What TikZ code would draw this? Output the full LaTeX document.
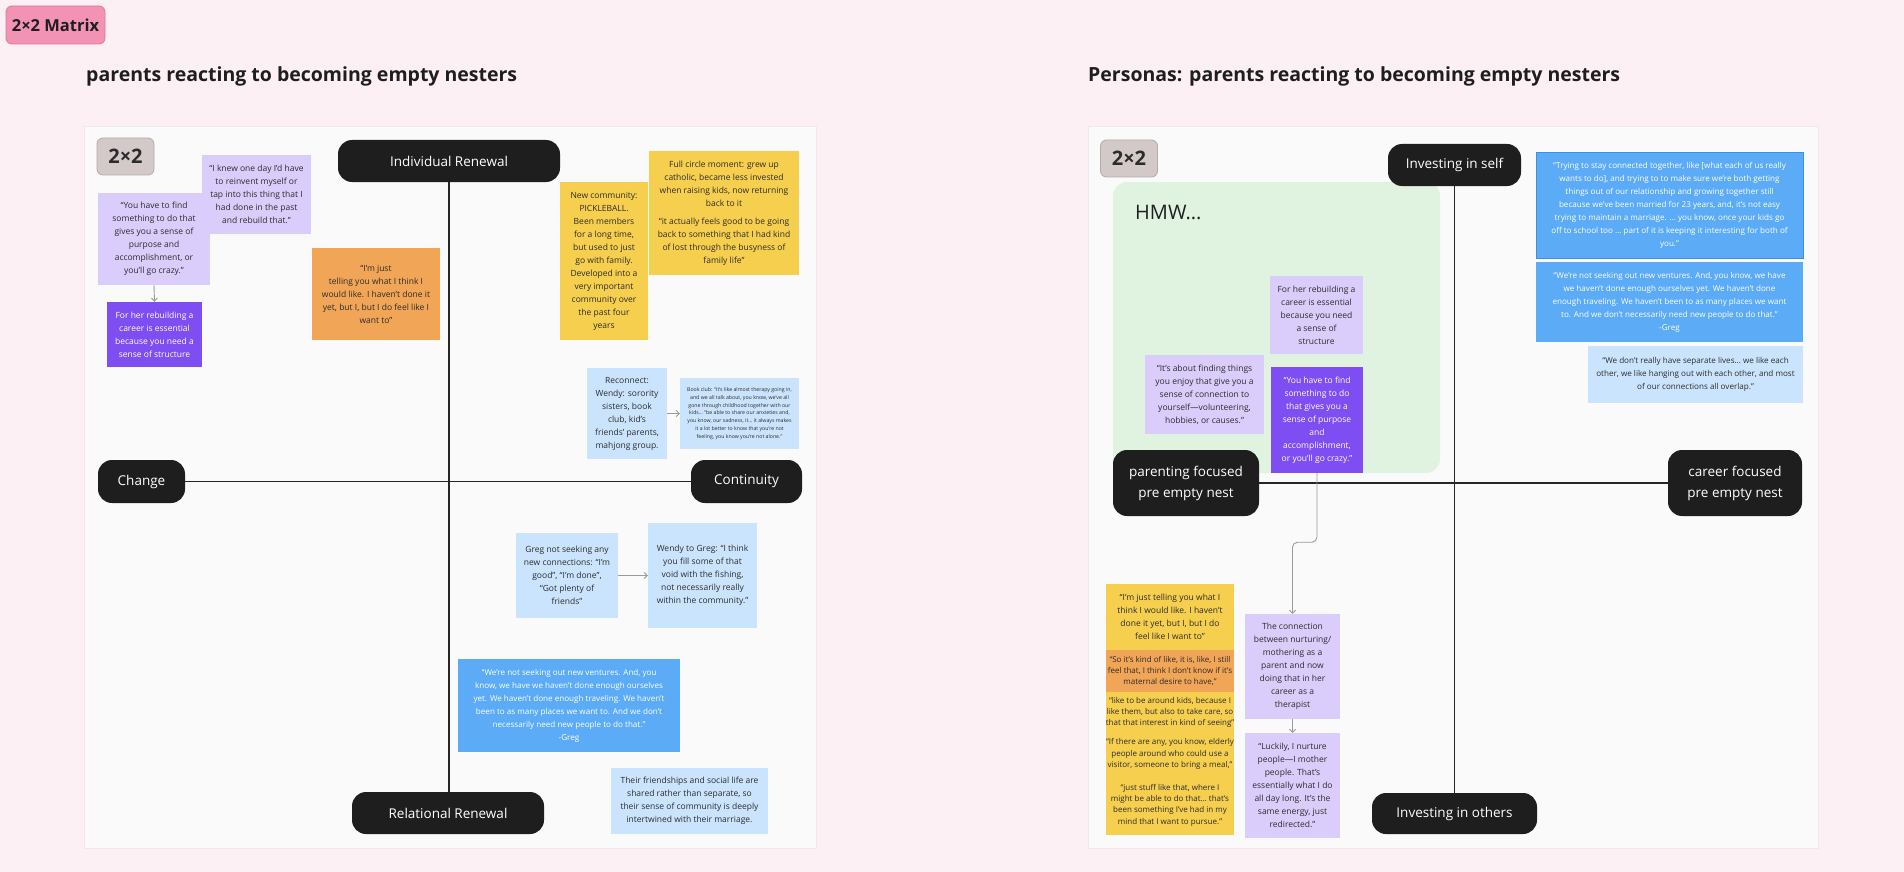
\documentclass[tikz,border=0pt]{standalone}
\usepackage{fontspec}
\setmainfont{Open Sans}
\usetikzlibrary{arrows.meta,positioning,backgrounds}
\definecolor{pagebg}{HTML}{FDF0F4}
\definecolor{panelbg}{HTML}{FAFAFA}
\definecolor{panelline}{HTML}{EEEAEC}
\definecolor{pillblack}{HTML}{1E1E1E}
\definecolor{axisblack}{HTML}{262626}
\definecolor{notetext}{HTML}{2C2C2C}
\definecolor{headtext}{HTML}{1E1E1E}
\definecolor{lilac}{HTML}{DACDFB}
\definecolor{violet}{HTML}{7E4EF2}
\definecolor{peach}{HTML}{F1A556}
\definecolor{sun}{HTML}{F6CF4F}
\definecolor{skylight}{HTML}{CBE4FD}
\definecolor{sky}{HTML}{5CABF6}
\definecolor{skyedge}{HTML}{3C8FE3}
\definecolor{hmwfill}{HTML}{DFF3E0}
\definecolor{tagfill}{HTML}{D3C9C9}
\definecolor{tagline}{HTML}{B5AAAA}
\definecolor{pinktag}{HTML}{F292B4}
\definecolor{pinkline}{HTML}{DC789D}
\definecolor{linkgrey}{HTML}{9A9A9A}
\newcommand\notefont{\fontsize{8.5}{13}\selectfont}
\newcommand\smallnote{\fontsize{8}{11.3}\selectfont}
\newcommand\densenote{\fontsize{8.1}{13}\selectfont}
\newcommand\tinynote{\fontsize{5.2}{7.8}\selectfont}
\newcommand\pillfont{\fontsize{13.5}{21}\selectfont}
\newcommand\headfont{\fontsize{19.5}{24}\selectfont\bfseries}
\newcommand\tagfont{\fontsize{20}{24}\selectfont\bfseries}

\begin{document}
\begin{tikzpicture}[x=1pt, y=-1pt,
  note/.style={inner sep=0pt, align=center, font=\notefont, text=notetext},
  sz/.style 2 args={minimum width=#1pt, minimum height=#2pt},
  pill/.style={fill=pillblack, text=white, rounded corners=14pt, inner sep=0pt, align=center, font=\pillfont},
  boxtag/.style={fill=tagfill, draw=tagline, line width=0.8pt, rounded corners=6pt, inner sep=0pt, font=\tagfont, text=notetext, minimum width=57pt, minimum height=37pt},
  panel/.style={fill=panelbg, draw=panelline, line width=0.8pt},
  axisline/.style={draw=axisblack, line width=1.5pt},
  link/.style={draw=linkgrey, line width=0.9pt, -{Straight Barb[length=3pt,width=6pt]}},
  heading/.style={anchor=west, font=\headfont, text=headtext, inner sep=0pt}]
  \useasboundingbox (0,0) rectangle (1904,872);

  \begin{scope}[on background layer]
    \fill[pagebg] (0,0) rectangle (1904,872);
    \filldraw[panel] (84,126) rectangle (816,848);
    \filldraw[panel] (1088,126) rectangle (1818,848);
    \fill[hmwfill, rounded corners=14pt] (1113,182) rectangle (1440,473);
  \end{scope}

  \node[fill=pinktag, draw=pinkline, line width=0.8pt, rounded corners=6pt, inner sep=0pt,
    sz={99}{38}, font=\fontsize{16.5}{20}\selectfont\bfseries, text=headtext] (matrixtag) at (55.5,25) {2×2 Matrix};
  \node[heading] (titleleft) at (86,76) {parents reacting to becoming empty nesters};
  \node[heading] (titleright) at (1088,76) {Personas: parents reacting to becoming empty nesters};

  % left 2x2
  \node[boxtag] (tagleft) at (125.5,156.5) {2×2};
  \node[pill, sz={222}{42}] (indiv) at (449,161) {Individual Renewal};
  \node[pill, sz={192}{42}] (relat) at (448,813) {Relational Renewal};
  \node[pill, sz={87}{43}] (change) at (141.5,481.5) {Change};
  \node[pill, sz={111}{43}] (contin) at (746.5,481.5) {Continuity};

  \node[note, fill=lilac, sz={109}{79}] (knew) at (256.5,194.5)
    {“I knew one day I’d have\\to reinvent myself or\\tap into this thing that I\\had done in the past\\and rebuild that.”};
  \node[note, fill=lilac, sz={112}{92}] (findleft) at (154,239)
    {“You have to find\\something to do that\\gives you a sense of\\purpose and\\accomplishment, or\\you’ll go crazy.”};
  \node[note, fill=violet, text=white, sz={95}{65}] (careerleft) at (154.5,334.5)
    {For her rebuilding a\\career is essential\\because you need a\\sense of structure};
  \node[note, fill=peach, sz={128}{92}] (justleft) at (376,294)
    {“I’m just\\telling you what I think I\\would like. I haven’t done it\\yet, but I, but I do feel like I\\want to”};
  \node[note, fill=sun, sz={88}{158}] (pickle) at (604,261)
    {New community:\\PICKLEBALL.\\Been members\\for a long time,\\but used to just\\go with family.\\Developed into a\\very important\\community over\\the past four\\years};
  \node[note, fill=sun, sz={150}{124}] (circle) at (724,213)
    {Full circle moment: grew up\\catholic, became less invested\\when raising kids, now returning\\back to it\\[5pt]“it actually feels good to be going\\back to something that I had kind\\of lost through the busyness of\\family life”};
  \node[note, fill=skylight, sz={80}{91}] (reconnect) at (627,413.5)
    {Reconnect:\\Wendy: sorority\\sisters, book\\club, kid’s\\friends’ parents,\\mahjong group.};
  \node[note, fill=skylight, sz={119}{71}, font=\tinynote] (bookclub) at (739.5,413.5)
    {Book club: “It’s like almost therapy going in,\\and we all talk about, you know, we’ve all\\gone through childhood together with our\\kids… “be able to share our anxieties and,\\you know, our sadness, it… it always makes\\it a lot better to know that you’re not\\feeling, you know you’re not alone.”};
  \node[note, fill=skylight, sz={102}{85}] (gregno) at (567,575.5)
    {Greg not seeking any\\new connections: “I’m\\good”, “I’m done”,\\“Got plenty of\\friends”};
  \node[note, fill=skylight, sz={109}{105}] (wendy) at (702.5,575.5)
    {Wendy to Greg: “I think\\you fill some of that\\void with the fishing,\\not necessarily really\\within the community.”};
  \node[note, fill=sky, text=white, sz={222}{93}, font=\densenote] (seekleft) at (569,705.5)
    {“We’re not seeking out new ventures. And, you\\know, we have we haven’t done enough ourselves\\yet. We haven’t done enough traveling. We haven’t\\been to as many places we want to. And we don’t\\necessarily need new people to do that.”\\-Greg};
  \node[note, fill=skylight, sz={157}{66}] (friends) at (689.5,801)
    {Their friendships and social life are\\shared rather than separate, so\\their sense of community is deeply\\intertwined with their marriage.};

  % right 2x2
  \node[boxtag] (tagright) at (1129,158.5) {2×2};
  \node[anchor=west, inner sep=0pt, font=\fontsize{20}{24}\selectfont, text=headtext] (hmw) at (1135,213) {HMW...};
  \node[pill, sz={133}{42}] (self) at (1454.5,165) {Investing in self};
  \node[pill, sz={165}{41}] (others) at (1454.5,813.5) {Investing in others};
  \node[pill, sz={146}{66}] (parenting) at (1186,483) {parenting focused\\pre empty nest};
  \node[pill, sz={134}{66}] (careerpill) at (1735,483) {career focused\\pre empty nest};

  \node[note, fill=lilac, sz={93}{78}] (forher) at (1316.5,315)
    {For her rebuilding a\\career is essential\\because you need\\a sense of\\structure};
  \node[note, fill=lilac, sz={119}{79}] (aboutfind) at (1204.5,394.5)
    {“It’s about finding things\\you enjoy that give you a\\sense of connection to\\yourself—volunteering,\\hobbies, or causes.”};
  \node[note, fill=violet, text=white, sz={92}{106}] (findright) at (1317,420)
    {“You have to find\\something to do\\that gives you a\\sense of purpose\\and\\accomplishment,\\or you’ll go crazy.”};
  \node[note, fill=lilac, sz={95}{105}] (nurture) at (1292.5,666.5)
    {The connection\\between nurturing/\\mothering as a\\parent and now\\doing that in her\\career as a\\therapist};
  \node[note, fill=lilac, sz={95}{105}] (luckily) at (1292.5,785.5)
    {“Luckily, I nurture\\people—I mother\\people. That’s\\essentially what I do\\all day long. It’s the\\same energy, just\\redirected.”};

  \node[note, fill=sun, sz={128}{66}] (justright) at (1170,617)
    {“I’m just telling you what I\\think I would like. I haven’t\\done it yet, but I, but I do\\feel like I want to”};
  \node[note, fill=peach, sz={128}{42}, font=\smallnote] (maternal) at (1170,671)
    {“So it’s kind of like, it is, like, I still\\feel that, I think I don’t know if it’s\\maternal desire to have,”};
  \node[note, fill=sun, sz={128}{41}, font=\smallnote] (kids) at (1170,712.5)
    {“like to be around kids, because I\\like them, but also to take care, so\\that that interest in kind of seeing”};
  \node[note, fill=sun, sz={128}{42}, font=\smallnote] (elderly) at (1170,754)
    {“If there are any, you know, elderly\\people around who could use a\\visitor, someone to bring a meal,”};
  \node[note, fill=sun, sz={128}{60}, font=\smallnote] (pursue) at (1170,805)
    {“just stuff like that, where I\\might be able to do that… that’s\\been something I’ve had in my\\mind that I want to pursue.”};

  \node[note, fill=sky, draw=skyedge, line width=0.8pt, text=white, sz={267}{106}, font=\densenote] (together) at (1669.5,205)
    {“Trying to stay connected together, like [what each of us really\\wants to do], and trying to to make sure we’re both getting\\things out of our relationship and growing together still\\because we’ve been married for 23 years, and, it’s not easy\\trying to maintain a marriage. … you know, once your kids go\\off to school too … part of it is keeping it interesting for both of\\you.”};
  \node[note, fill=sky, text=white, sz={267}{80}, font=\densenote] (seekright) at (1669.5,302)
    {“We’re not seeking out new ventures. And, you know, we have\\we haven’t done enough ourselves yet. We haven’t done\\enough traveling. We haven’t been to as many places we want\\to. And we don’t necessarily need new people to do that.”\\-Greg};
  \node[note, fill=skylight, sz={215}{57}, font=\densenote] (overlap) at (1695.5,374.5)
    {“We don’t really have separate lives… we like each\\other, we like hanging out with each other, and most\\of our connections all overlap.”};

  \begin{scope}[on background layer]
    \draw[axisline] (indiv.south) -- (indiv.south |- relat.north);
    \draw[axisline] (change.east) -- (contin.west);
    \draw[axisline] (self.south) -- (self.south |- others.north);
    \draw[axisline] (parenting.east) -- (careerpill.west);
  \end{scope}

  \draw[link] (findleft.south) -- (careerleft.north);
  \draw[link] (reconnect.east) -- (bookclub.west);
  \draw[link] (gregno.east) -- (wendy.west);
  \draw[link, rounded corners=5pt] (findright.south) -- ++(0,69) -| (nurture.north);
  \draw[link] (nurture.south) -- (luckily.north);
\end{tikzpicture}
\end{document}
